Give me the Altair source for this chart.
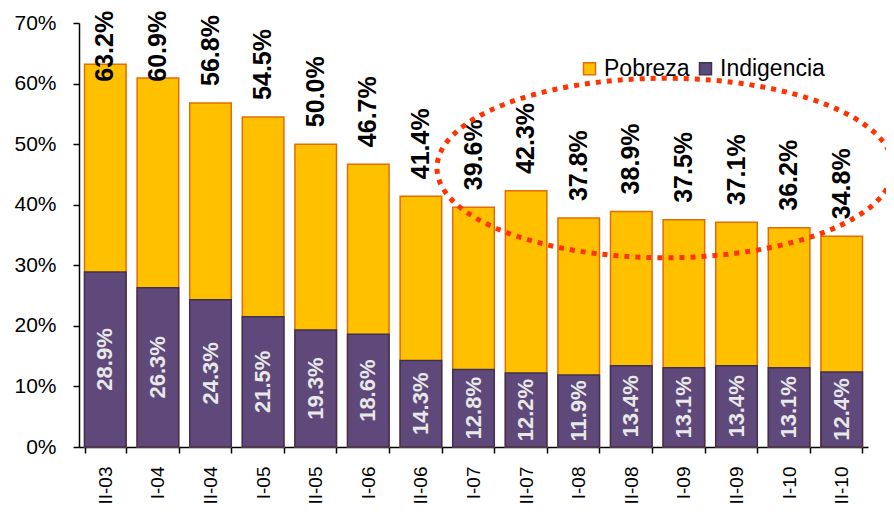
import altair as alt
import pandas as pd

categories = ["II-03", "I-04", "II-04", "I-05", "II-05", "I-06", "II-06", "I-07",
              "II-07", "I-08", "II-08", "I-09", "II-09", "I-10", "II-10"]
pobreza = [63.2, 60.9, 56.8, 54.5, 50.0, 46.7, 41.4, 39.6, 42.3, 37.8, 38.9, 37.5, 37.1, 36.2, 34.8]
indigencia = [28.9, 26.3, 24.3, 21.5, 19.3, 18.6, 14.3, 12.8, 12.2, 11.9, 13.4, 13.1, 13.4, 13.1, 12.4]
series = ["Pobreza", "Indigencia"]
fill_colors = ["#FFC000", "#5F497A"]
stroke_colors = ["#E36C09", "#3F3151"]
y_ticks = [0, 10, 20, 30, 40, 50, 60, 70]

rows = []
for k, (s, vals) in enumerate((("Pobreza", pobreza), ("Indigencia", indigencia))):
    for c, v in zip(categories, vals):
        rows.append({"periodo": c, "serie": s, "valor": v, "ord": k})
long_df = pd.DataFrame(rows)
wide_df = pd.DataFrame({"periodo": categories, "pobreza": pobreza, "indigencia": indigencia})

FONT = "Liberation Sans"

x_scale = alt.Scale(paddingInner=0.21, paddingOuter=0.105)
y_scale = alt.Scale(domain=[0, 70], nice=False, zero=True)

x_axis = alt.Axis(title=None, labelAngle=270, labelAlign="right", labelBaseline="middle",
                  tickBand="extent", tickSize=6, labelPadding=13, labelFontSize=19)
y_axis = alt.Axis(title=None, values=y_ticks, labelExpr="datum.value + '%'",
                  grid=False, tickSize=6, labelPadding=17, labelFontSize=21)

legend = alt.Legend(title=None, orient="none", legendX=499, legendY=34, direction="horizontal",
                    symbolType="square", symbolSize=144, symbolStrokeWidth=1.5,
                    labelFont=FONT, labelFontSize=23, labelColor="black",
                    labelOffset=3, columnPadding=4, padding=0)

bars = alt.Chart(long_df).mark_bar(strokeWidth=1.5, opacity=1).encode(
    x=alt.X("periodo:N", sort=categories, scale=x_scale, axis=x_axis),
    y=alt.Y("valor:Q", stack=None, scale=y_scale, axis=y_axis),
    fill=alt.Fill("serie:N", scale=alt.Scale(domain=series, range=fill_colors), legend=legend),
    stroke=alt.Stroke("serie:N", scale=alt.Scale(domain=series, range=stroke_colors), legend=legend),
    order=alt.Order("ord:Q"),
)

inner = alt.Chart(wide_df).transform_calculate(
    mid="datum.indigencia / 2",
    txt="format(datum.indigencia, '.1f') + '%'",
).mark_text(angle=270, align="center", baseline="middle", font=FONT, fontSize=22,
            fontWeight="bold", color="#E8E8E8").encode(
    x=alt.X("periodo:N", sort=categories, scale=x_scale, axis=x_axis),
    y=alt.Y("mid:Q", scale=y_scale, axis=y_axis),
    text="txt:N",
)

top = alt.Chart(wide_df).transform_calculate(
    pos="min(datum.pobreza, 57.5)",
    txt="format(datum.pobreza, '.1f') + '%'",
).mark_text(angle=270, align="left", baseline="middle", dx=17, font=FONT, fontSize=25,
            fontWeight="bold", color="black").encode(
    x=alt.X("periodo:N", sort=categories, scale=x_scale, axis=x_axis),
    y=alt.Y("pos:Q", scale=y_scale, axis=y_axis),
    text="txt:N",
)

ellipse_path = ("M 1 0 C 1 0.2173 0.5523 0.3935 0 0.3935 C -0.5523 0.3935 -1 0.2173 -1 0 "
                "C -1 -0.2173 -0.5523 -0.3935 0 -0.3935 C 0.5523 -0.3935 1 -0.2173 1 0 Z")
ellipse = alt.Chart(pd.DataFrame({"a": [0]})).mark_point(
    shape=ellipse_path, size=456 * 456, filled=False, opacity=1,
    stroke="#FF3300", strokeWidth=5, strokeDash=[5, 6], strokeCap="butt",
).encode(x=alt.value(586), y=alt.value(145))

chart = alt.layer(bars, inner, top, ellipse).properties(
    width=789, height=424,
    autosize=alt.AutoSizeParams(type="none"),
    padding={"left": 71, "top": 15, "right": 18, "bottom": 61},
).configure_view(stroke=None).configure_axis(
    domainColor="black", domainWidth=1.5, tickColor="black", tickWidth=1.5,
    labelFont=FONT, labelColor="black",
)

chart.save("out.html", embed_options={"renderer": "svg", "actions": False})
